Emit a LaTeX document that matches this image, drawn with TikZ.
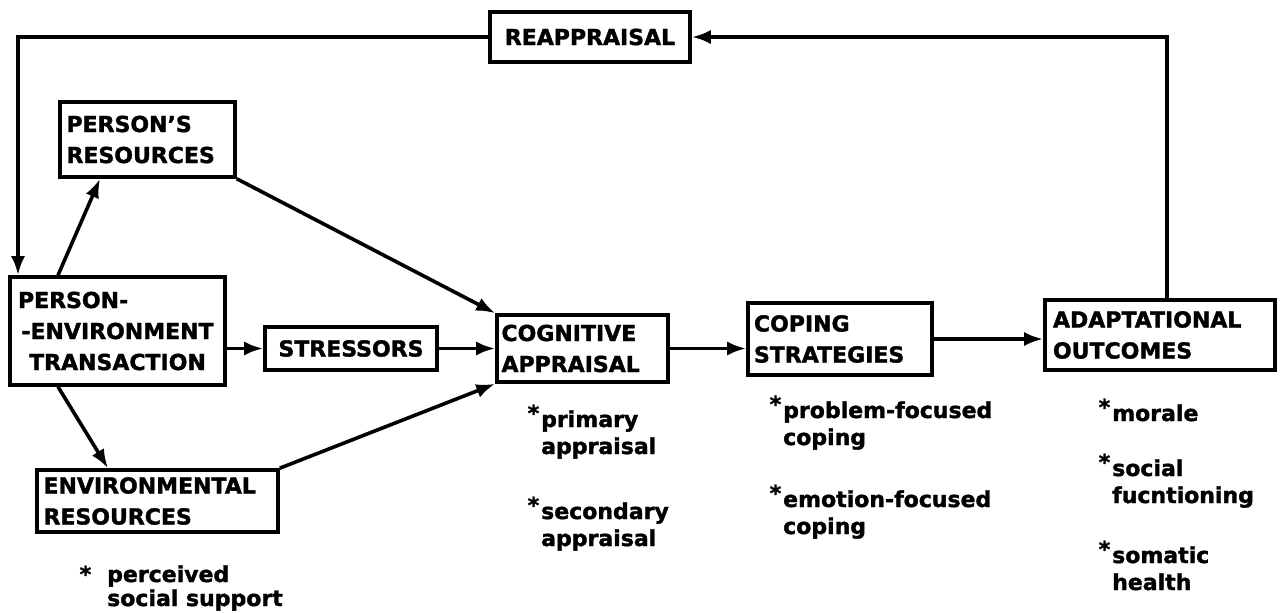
\documentclass[tikz,border=0pt]{standalone}
\usepackage{fontspec}
\setmainfont[BoldFeatures={FakeBold=1.6}]{DejaVu Sans}
\usetikzlibrary{arrows.meta}
\tikzset{
  box/.style={draw, line width=3.6pt, inner sep=0pt, font=\bfseries\fontsize{22}{31}\selectfont},
  link/.style={line width=3.6pt, -{Latex[length=19pt,width=14pt]}},
  note/.style={anchor=base west, inner sep=0pt, align=left, font=\bfseries\fontsize{22}{27}\selectfont},
}
% raised asterisk hanging left of a note's first word
\newcommand{\bul}{\makebox[0pt][r]{\raisebox{6pt}{*}\hspace{2pt}}}
\begin{document}
\begin{tikzpicture}[x=1pt,y=-1pt]
\useasboundingbox (0,0) rectangle (1280,613);

% boxes
\node[box, minimum width=200, minimum height=50] (reap) at (590,37) {REAPPRAISAL};
\node[box, minimum width=175, minimum height=75, text width=162, align=left] (pr) at (147.5,139.5) {PERSON'S\\RESOURCES};
\node[box, minimum width=215, minimum height=108, text width=212, align=center] (pe) at (117.5,331) {PERSON-\hphantom{NMENT}\\-ENVIRONMENT\\TRANSACTION};
\node[box, minimum width=172, minimum height=43] (str) at (351,348.5) {STRESSORS};
\node[box, minimum width=171, minimum height=67, text width=162, align=left] (cog) at (582.5,348.5) {COGNITIVE\\APPRAISAL};
\node[box, minimum width=184, minimum height=72, text width=172, align=left] (cop) at (840,339) {COPING\\STRATEGIES};
\node[box, minimum width=230, minimum height=70, text width=214, align=left] (ada) at (1160,335) {ADAPTATIONAL\\OUTCOMES};
\node[box, minimum width=241, minimum height=62, text width=228, align=left] (env) at (157.5,501) {ENVIRONMENTAL\\RESOURCES};

% feedback loop
\coordinate (tl) at (18,37);
\draw[link] ([xshift=7pt]ada.north) |- (reap.east);
\draw[link] (reap.west) -- (tl) -- (tl |- pe.north);

% forward links
\draw[link] ([xshift=-59.5pt]pe.north) -- ([xshift=-47.5pt]pr.south);
\draw[link] (pr.south east) -- (cog.north west);
\draw[link] (str.west -| pe.east) -- (str.west);
\draw[link] (str.east) -- (cog.west |- str.east);
\draw[link] ([xshift=-59.5pt]pe.south) -- ([xshift=-49.5pt]env.north);
\draw[link] (env.north east) -- (cog.south west);
\draw[link] (cog.east) -- (cog.east -| cop.west);
\draw[link] (cop.east) -- (cop.east -| ada.west);

% notes (anchored at the baseline of their last line)
\node[note, font=\bfseries\fontsize{22}{24}\selectfont] (n1) at (107,606) {\llap{*\hspace{16pt}}perceived\\social support};
\node[note] (n2) at (541,454) {\bul primary\\appraisal};
\node[note] (n3) at (541,546) {\bul secondary\\appraisal};
\node[note] (n4) at (783,445) {\bul problem-focused\\coping};
\node[note] (n5) at (783,534) {\bul emotion-focused\\coping};
\node[note] (n6) at (1112,421) {\bul morale};
\node[note] (n7) at (1112,503) {\bul social\\fucntioning};
\node[note] (n8) at (1112,590) {\bul somatic\\health};
\end{tikzpicture}
\end{document}
